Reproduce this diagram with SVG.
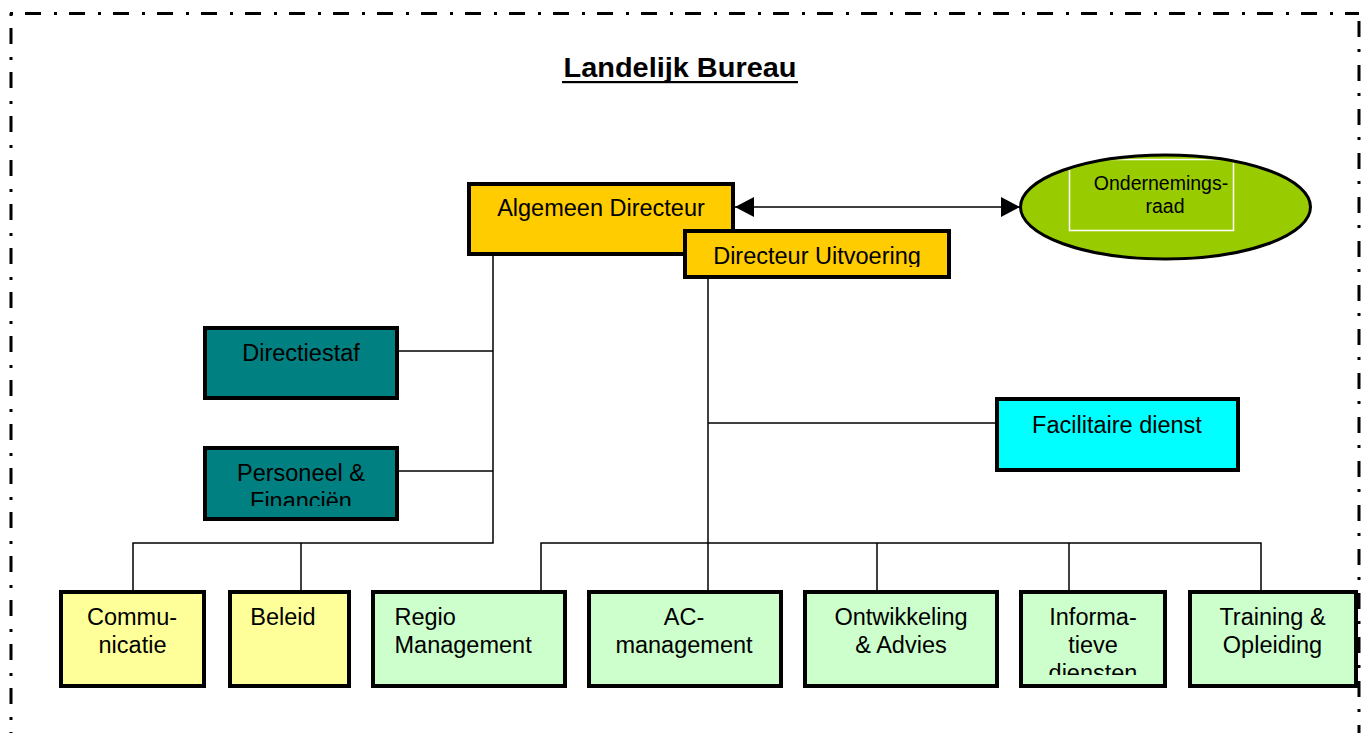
<svg xmlns="http://www.w3.org/2000/svg" width="1365" height="733" viewBox="0 0 1365 733">
<style>
  .box { stroke: #000; stroke-width: 4; }
  .t { font-family: "Liberation Sans", Arial, sans-serif; font-size: 23.5px; fill: #000; text-anchor: middle; }
  .tl { text-anchor: start; }
  .conn { fill: none; stroke: #000; stroke-width: 1.5; }
  .border { stroke: #000; stroke-width: 3; fill: none; stroke-dasharray: 3 12 16 13; }
  .gold { fill: #FFCC00; }
  .teal { fill: #008080; }
  .cyan { fill: #00FFFF; }
  .yel { fill: #FFFF99; }
  .grn { fill: #CCFFCC; }
</style>
<defs>
  <marker id="arr" markerUnits="userSpaceOnUse" markerWidth="20" markerHeight="20" viewBox="0 0 19 20" refX="19" refY="10" orient="auto-start-reverse">
    <path d="M0,0 L19,10 L0,20 Z" fill="#000"/>
  </marker>
  <clipPath id="clipDU"><rect x="685" y="231" width="264" height="36"/></clipPath>
  <clipPath id="clipPF"><rect x="205" y="448" width="192" height="58"/></clipPath>
  <clipPath id="clipID"><rect x="1021" y="592" width="144" height="83"/></clipPath>
  <clipPath id="clipOR"><ellipse cx="1165.5" cy="207" rx="143" ry="50"/></clipPath>
</defs>
<rect width="1365" height="733" fill="#fff"/>

<g id="frame">
  <line class="border" x1="10" y1="13.5" x2="1359" y2="13.5"/>
  <line class="border" x1="11" y1="13" x2="11" y2="760"/>
  <line class="border" x1="1359" y1="13" x2="1359" y2="760" stroke-dashoffset="-8" style="stroke-dasharray:16 12 3 13"/>
</g>

<g id="title">
  <text x="680" y="77" font-family="'Liberation Sans', Arial, sans-serif" font-size="28" font-weight="bold" text-anchor="middle" textLength="233" lengthAdjust="spacingAndGlyphs">Landelijk Bureau</text>
  <rect x="562" y="81" width="236" height="2.2" fill="#000"/>
</g>

<g id="connectors">
  <path class="conn" d="M493,256 V543 H133 V590"/>
  <path class="conn" d="M301,543 V590"/>
  <path class="conn" d="M399,351 H493"/>
  <path class="conn" d="M399,471 H493"/>
  <path class="conn" d="M708,279 V590"/>
  <path class="conn" d="M708,423 H997"/>
  <path class="conn" d="M541,590 V543 H1261 V590"/>
  <path class="conn" d="M877,543 V590"/>
  <path class="conn" d="M1069,543 V590"/>
  <line class="conn" x1="735" y1="207" x2="1020" y2="207" marker-start="url(#arr)" marker-end="url(#arr)"/>
</g>

<g id="algemeen-directeur">
  <rect class="box gold" x="469" y="184" width="264" height="70"/>
  <text class="t" x="601" y="216">Algemeen Directeur</text>
</g>

<g id="directeur-uitvoering">
  <rect class="box gold" x="685" y="231" width="264" height="46"/>
  <text class="t" x="817" y="264" clip-path="url(#clipDU)">Directeur Uitvoering</text>
</g>

<g id="ondernemingsraad">
  <ellipse cx="1165.5" cy="207" rx="145" ry="52" fill="#99CC00" stroke="#000" stroke-width="3"/>
  <rect x="1069.5" y="159.5" width="164" height="71" fill="none" stroke="#fff" stroke-width="1.5" clip-path="url(#clipOR)"/>
  <text class="t" x="1161" y="190" style="font-size:19.5px">Ondernemings-</text>
  <text class="t" x="1165" y="213" style="font-size:19.5px">raad</text>
</g>

<g id="directiestaf">
  <rect class="box teal" x="205" y="328" width="192" height="70"/>
  <text class="t" x="301" y="361">Directiestaf</text>
</g>

<g id="personeel-financien">
  <rect class="box teal" x="205" y="448" width="192" height="71"/>
  <g clip-path="url(#clipPF)">
    <text class="t" x="301" y="481">Personeel &amp;</text>
    <text class="t" x="301" y="509">Financiën</text>
  </g>
</g>

<g id="facilitaire-dienst">
  <rect class="box cyan" x="997" y="399" width="241" height="71"/>
  <text class="t" x="1117" y="433">Facilitaire dienst</text>
</g>

<g id="communicatie">
  <rect class="box yel" x="61" y="592" width="143" height="94"/>
  <text class="t" x="132" y="625">Commu-</text>
  <text class="t" x="132.5" y="653">nicatie</text>
</g>

<g id="beleid">
  <rect class="box yel" x="230" y="592" width="119" height="94"/>
  <text class="t" x="283" y="625">Beleid</text>
</g>

<g id="regio-management">
  <rect class="box grn" x="373" y="592" width="192" height="94"/>
  <text class="t tl" x="394.5" y="625">Regio</text>
  <text class="t tl" x="394.5" y="653">Management</text>
</g>

<g id="ac-management">
  <rect class="box grn" x="589" y="592" width="192" height="94"/>
  <text class="t" x="684" y="625">AC-</text>
  <text class="t" x="684" y="653">management</text>
</g>

<g id="ontwikkeling-advies">
  <rect class="box grn" x="805" y="592" width="192" height="94"/>
  <text class="t" x="901" y="625">Ontwikkeling</text>
  <text class="t" x="901" y="653">&amp; Advies</text>
</g>

<g id="informatieve-diensten">
  <rect class="box grn" x="1021" y="592" width="144" height="94"/>
  <g clip-path="url(#clipID)">
    <text class="t" x="1093" y="625">Informa-</text>
    <text class="t" x="1093" y="653">tieve</text>
    <text class="t" x="1093" y="680.5">diensten</text>
  </g>
</g>

<g id="training-opleiding">
  <rect class="box grn" x="1190" y="592" width="166" height="94"/>
  <text class="t" x="1272.5" y="625">Training &amp;</text>
  <text class="t" x="1272.5" y="653">Opleiding</text>
</g>
</svg>
